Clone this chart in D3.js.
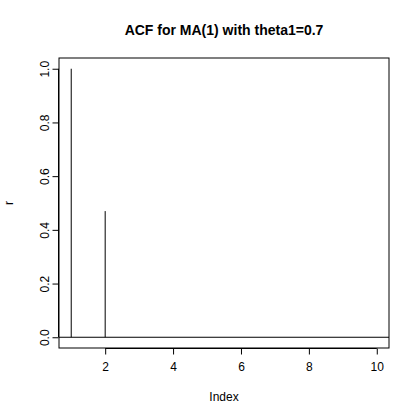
<!DOCTYPE html>
<html><head><meta charset="utf-8">
<script src="https://cdn.jsdelivr.net/npm/d3@7"></script>
<style>body{margin:0;background:#fff}text{font-family:"Liberation Sans",Arial,sans-serif}</style>
</head><body><div id="chart"></div>
<script>
// ACF of MA(1), theta1 = 0.7, lags 0..9 plotted at index 1..10
const index = [1, 2, 3, 4, 5, 6, 7, 8, 9, 10];
const r = [1, 0.4698, 0, 0, 0, 0, 0, 0, 0, 0];
const xTicks = [2, 4, 6, 8, 10];
const yTicks = [0, 0.2, 0.4, 0.6, 0.8, 1.0];

const W = 420, H = 420;
const margin = {top: 58, right: 31, bottom: 72, left: 59};
const svg = d3.select("#chart").append("svg").attr("width", W).attr("height", H);

const x = d3.scaleLinear().domain([0.64, 10.36]).range([margin.left, W - margin.right]);
const y = d3.scaleLinear().domain([-0.04, 1.04]).range([H - margin.bottom, margin.top]);

// plot box
svg.append("rect")
    .attr("x", margin.left).attr("y", margin.top)
    .attr("width", W - margin.left - margin.right).attr("height", H - margin.top - margin.bottom)
    .attr("fill", "none").attr("stroke", "#000");

// spikes
svg.selectAll("line.spike").data(index).join("line")
    .attr("class", "spike")
    .attr("x1", d => x(d)).attr("x2", d => x(d))
    .attr("y1", y(0)).attr("y2", (d, i) => y(r[i]))
    .attr("stroke", "#000");

// zero line
svg.append("line")
    .attr("x1", margin.left).attr("x2", W - margin.right)
    .attr("y1", y(0)).attr("y2", y(0)).attr("stroke", "#000");

const fmt = d => d === 0 ? "0.0" : d3.format(".1f")(d);

svg.append("g")
    .attr("transform", `translate(0,${H - margin.bottom + 0.5})`)
    .call(d3.axisBottom(x).tickValues(xTicks).tickSize(6).tickPadding(8).tickSizeOuter(0))
    .call(g => g.select(".domain").attr("d", `M${x(2)},0H${x(10)}`))
    .call(g => g.selectAll("text").attr("font-size", 12).attr("fill", "#000"));

const ya = svg.append("g")
    .attr("transform", `translate(${margin.left - 0.5},0)`)
    .call(d3.axisLeft(y).tickValues(yTicks).tickFormat(fmt).tickSize(6).tickSizeOuter(0))
    .call(g => g.select(".domain").attr("d", `M0,${y(0)}V${y(1)}`));
ya.selectAll("text")
    .attr("font-size", 12).attr("fill", "#000")
    .attr("text-anchor", "middle").attr("dy", 0)
    .attr("x", 0).attr("y", 0)
    .attr("transform", "translate(-10,0) rotate(-90)");

svg.append("text").attr("x", (margin.left + W - margin.right) / 2).attr("y", 35)
    .attr("text-anchor", "middle").attr("font-size", 14).attr("font-weight", "bold")
    .text("ACF for MA(1) with theta1=0.7");
svg.append("text").attr("x", (margin.left + W - margin.right) / 2).attr("y", 401)
    .attr("text-anchor", "middle").attr("font-size", 12).text("Index");
svg.append("text").attr("transform", `translate(13,${(margin.top + H - margin.bottom) / 2}) rotate(-90)`)
    .attr("text-anchor", "middle").attr("font-size", 12).text("r");
</script></body></html>
